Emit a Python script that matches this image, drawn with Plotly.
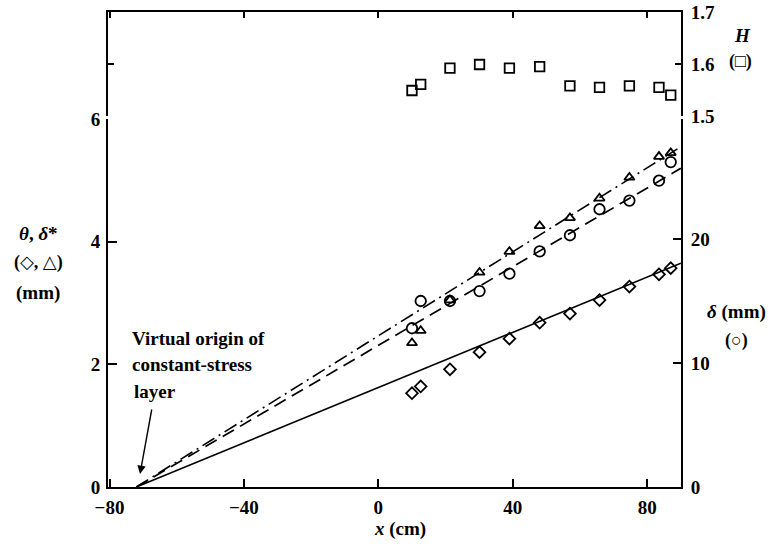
import plotly.graph_objects as go

# Measurement stations along the plate (cm)
x_cm = [10.0, 12.6, 21.3, 30.1, 39.0, 48.0, 57.0, 65.8, 74.7, 83.5, 87.0]
# Momentum thickness theta (mm)
theta_mm = [1.53, 1.64, 1.92, 2.20, 2.42, 2.68, 2.83, 3.05, 3.27, 3.47, 3.57]
# Displacement thickness delta* (mm)
dstar_mm = [2.35, 2.55, 3.05, 3.50, 3.84, 4.26, 4.39, 4.71, 5.05, 5.39, 5.45]
# Boundary-layer thickness delta (mm)
delta_mm = [12.8, 15.0, 15.0, 15.8, 17.2, 19.0, 20.3, 22.4, 23.1, 24.7, 26.2]
# Shape factor H
shape_H = [1.549, 1.561, 1.592, 1.599, 1.592, 1.595, 1.558, 1.555, 1.558, 1.555, 1.540]

# Straight-line fits running back to the virtual origin
fit_x = [-72.0, 90.0]
theta_fit = [0.0, 3.65]
dstar_fit = [0.0, 5.55]
delta_fit = [0.0, 25.7]

x_ticks = [-80, -40, 0, 40, 80]
x_ticktext = ["\u221280", "\u221240", "0", "40", "80"]
theta_ticks = [0, 2, 4, 6]
delta_ticks = [0, 10, 20]
H_ticks = [1.5, 1.6, 1.7]

W, H = 779, 546
L, R, T, B = 108, 98, 12, 59
PW, PH = W - L - R, H - T - B
FONT = "Liberation Serif, Times New Roman, serif"
SYM = "Liberation Serif, DejaVu Sans, serif"


def px(xp):
    return (xp - L) / PW


def py(yp):
    return (H - B - yp) / PH


main_top = py(119.2)
upper_bottom = py(116)

ink = "black"
fig = go.Figure()

fig.add_trace(go.Scatter(x=fit_x, y=theta_fit, mode="lines",
                         line=dict(color=ink, width=1.6), xaxis="x", yaxis="y"))
fig.add_trace(go.Scatter(x=fit_x, y=dstar_fit, mode="lines",
                         line=dict(color=ink, width=1.6, dash="14px,5px,2px,5px"),
                         xaxis="x", yaxis="y"))
fig.add_trace(go.Scatter(x=fit_x, y=delta_fit, mode="lines",
                         line=dict(color=ink, width=1.7, dash="13px,7px"),
                         xaxis="x", yaxis="y2"))

marker_line = dict(color=ink, width=1.8)
fig.add_trace(go.Scatter(x=x_cm, y=theta_mm, mode="markers",
                         marker=dict(symbol="diamond-open", size=9, color=ink, line=marker_line),
                         xaxis="x", yaxis="y"))
fig.add_trace(go.Scatter(x=x_cm, y=dstar_mm, mode="markers",
                         marker=dict(symbol="triangle-up-open", size=9, color=ink, line=marker_line),
                         xaxis="x", yaxis="y"))
fig.add_trace(go.Scatter(x=x_cm, y=delta_mm, mode="markers",
                         marker=dict(symbol="circle-open", size=10.5, color=ink, line=marker_line),
                         xaxis="x", yaxis="y2"))
fig.add_trace(go.Scatter(x=x_cm, y=shape_H, mode="markers",
                         marker=dict(symbol="square-open", size=9.5, color=ink, line=marker_line),
                         xaxis="x2", yaxis="y3"))

x_range = [-80.45, 90.05]
tickfont = dict(family=FONT, size=19, color=ink, weight="bold")
common = dict(showgrid=False, zeroline=False, showline=True, linecolor=ink,
              linewidth=2, ticks="inside", tickcolor=ink, tickwidth=1.6,
              tickfont=tickfont, automargin=False)


def label(xp, yp, text, family=FONT, size=19, xanchor="center"):
    return dict(x=px(xp), y=py(yp), xref="paper", yref="paper", showarrow=False,
                xanchor=xanchor, yanchor="middle", text=text,
                font=dict(family=family, size=size, color=ink, weight="bold"))


annotations = [
    label(400, 529, "<i>x</i> (cm)"),
    label(38, 234, "<i>\u03b8</i>, <i>\u03b4</i>*"),
    label(38, 262, "(\u25c7, \u25b3)", family=SYM, size=18),
    label(38, 293, "(mm)"),
    label(736, 312, "<i>\u03b4</i> (mm)"),
    label(736, 340, "(\u25cb)", family=SYM, size=18),
    label(742, 36, "<i>H</i>"),
    label(740, 61, "(\u25a1)", family=SYM, size=18),
    label(130, 338, "Virtual origin of", xanchor="left"),
    label(130, 364, "constant-stress", xanchor="left"),
    label(132, 391, "layer", xanchor="left"),
    # arrow pointing at the virtual origin
    dict(x=px(140), y=py(474), xref="paper", yref="paper", ax=12, ay=-66,
         axref="pixel", ayref="pixel", showarrow=True, text="",
         arrowhead=2, arrowsize=1.2, arrowwidth=1.4, arrowcolor=ink),
]

fig.update_layout(
    width=W, height=H,
    margin=dict(l=L, r=R, t=T, b=B, pad=0, autoexpand=False),
    paper_bgcolor="white", plot_bgcolor="white",
    showlegend=False,
    font=dict(family=FONT, color=ink),
    xaxis=dict(domain=[0, 1], range=x_range, anchor="y", tickvals=x_ticks,
               ticktext=x_ticktext, ticklen=8, ticklabelstandoff=2, **common),
    yaxis=dict(domain=[0, main_top], range=[0, 6.0], anchor="x", side="left",
               tickvals=theta_ticks, ticklen=9, ticklabelstandoff=2, **common),
    yaxis2=dict(range=[0, 29.66], overlaying="y", anchor="x", side="right",
                tickvals=delta_ticks, ticklen=8, ticklabelstandoff=4, **common),
    xaxis2=dict(domain=[0, 1], range=x_range, anchor="y3", side="top",
                tickvals=x_ticks, ticklen=6, showticklabels=False, **common),
    yaxis3=dict(domain=[upper_bottom, 1], range=[1.5, 1.7], anchor="x2", side="right",
                tickvals=H_ticks, ticktext=["1.5", "1.6", "1.7"], ticklen=6,
                mirror="ticks", ticklabelstandoff=4, **common),
    annotations=annotations,
)

fig.write_html("out.html")
